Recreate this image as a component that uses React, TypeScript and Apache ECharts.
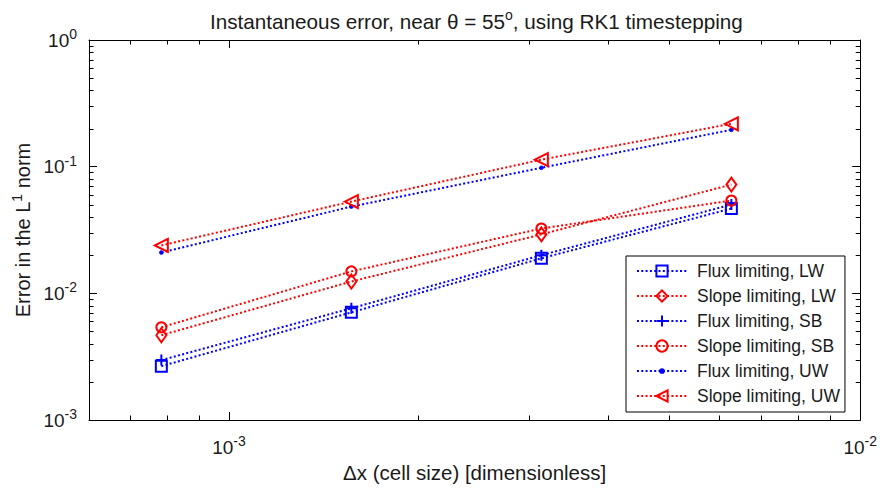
import React, { useEffect, useRef } from "react";
import * as echarts from "echarts";

// Cell sizes (dx) and L1 errors for each scheme
const cellSizes = [0.00078125, 0.0015625, 0.003125, 0.00625];
const fluxLW = [0.00266, 0.00708, 0.0189, 0.0467];
const slopeLW = [0.00467, 0.0124, 0.0292, 0.0722];
const fluxSB = [0.00297, 0.00762, 0.02, 0.0502];
const slopeSB = [0.0054, 0.0149, 0.0325, 0.054];
const fluxUW = [0.021, 0.0484, 0.098, 0.1955];
const slopeUW = [0.0239, 0.053, 0.1136, 0.218];

const seriesNames = [
  "Flux limiting, LW",
  "Slope limiting, LW",
  "Flux limiting, SB",
  "Slope limiting, SB",
  "Flux limiting, UW",
  "Slope limiting, UW",
];

const xRange = [6e-4, 1e-2];
const yRange = [1e-3, 1];
const xMinorTicks = [7e-4, 8e-4, 9e-4, 2e-3, 3e-3, 4e-3, 5e-3, 6e-3, 7e-3, 8e-3, 9e-3];
const yMinorTicks = [
  2e-3, 3e-3, 4e-3, 5e-3, 6e-3, 7e-3, 8e-3, 9e-3,
  2e-2, 3e-2, 4e-2, 5e-2, 6e-2, 7e-2, 8e-2, 9e-2,
  0.2, 0.3, 0.4, 0.5, 0.6, 0.7, 0.8, 0.9,
];

const FONT = "'Liberation Sans', Arial, Helvetica, sans-serif";
const BLUE = "#0000ff";
const RED = "#ff0000";
const INK = "#1a1a1a";
const MINOR_LEN = 4.5;

// small centred dot inside a wider box, so the marker stays small in the legend too
const dotSymbol = "path://M0,0M6,6M2,3a1,1 0 1,0 2,0a1,1 0 1,0 -2,0Z";
const plusSymbol = "path://M5,0L5,10M0,5L10,5";

function powerLabel(v: number): string {
  const e = Math.round(Math.log10(v));
  if (Math.abs(Math.log10(v) - e) > 1e-6) return "";
  return `{b|10}{s|${e}}`;
}

const supStyle = () => ({ fontSize: 14, fontFamily: FONT, color: INK, padding: [0, 0, 12, 0] });
const tickRich = () => ({
  b: { fontSize: 19, fontFamily: FONT, color: INK },
  s: supStyle(),
});

const frameLine = () => ({ show: true, onZero: false, lineStyle: { color: "#000", width: 1 } });
const majorTick = () => ({ show: true, inside: true, length: 8, lineStyle: { color: "#000", width: 1 } });

function makeLine(name: string, values: number[], color: string, symbol: string, size: any, extra: any = {}) {
  return {
    name,
    type: "line",
    data: cellSizes.map((x, i) => [x, values[i]]),
    symbol,
    symbolSize: size,
    showAllSymbol: true,
    lineStyle: { color, width: 2, type: [2, 2.3] },
    itemStyle: { color: "rgba(255,255,255,0)", borderColor: color, borderWidth: 2 },
    z: 3,
    ...extra,
  };
}

const tickLine = (x1: number, y1: number, x2: number, y2: number) => ({
  type: "line",
  shape: { x1, y1, x2, y2 },
  style: { stroke: "#000", lineWidth: 1 },
});

// Minor log ticks (2..9 of each decade) on all four sides, placed through the axes' scales
function minorTickLines(toX: (v: number) => number, toY: (v: number) => number) {
  const left = toX(xRange[0]);
  const right = toX(xRange[1]);
  const top = toY(yRange[1]);
  const bottom = toY(yRange[0]);
  const els: any[] = [];
  xMinorTicks.forEach((v) => {
    const x = Math.round(toX(v)) - 0.5;
    els.push(tickLine(x, bottom, x, bottom - MINOR_LEN));
    els.push(tickLine(x, top, x, top + MINOR_LEN));
  });
  yMinorTicks.forEach((v) => {
    const y = Math.round(toY(v)) + 0.5;
    els.push(tickLine(left, y, left + MINOR_LEN, y));
    els.push(tickLine(right, y, right - MINOR_LEN, y));
  });
  return els;
}

export default function App() {
  const ref = useRef<HTMLDivElement>(null);

  useEffect(() => {
    if (!ref.current) return;
    const chart = echarts.init(ref.current, undefined, { renderer: "svg" });

    chart.setOption({
      animation: false,
      title: {
        text: "Instantaneous error, near θ = 55{s|o}, using RK1 timestepping",
        left: 205,
        top: 3,
        textStyle: {
          fontSize: 20.7,
          fontWeight: "normal",
          fontFamily: FONT,
          color: INK,
          rich: { s: supStyle() },
        },
      },
      grid: { left: 89, right: 18, top: 40, bottom: 67 },
      xAxis: [
        {
          type: "log",
          logBase: 10,
          min: xRange[0],
          max: xRange[1],
          position: "bottom",
          name: "Δx (cell size) [dimensionless]",
          nameLocation: "middle",
          nameGap: 42,
          nameTextStyle: { fontSize: 20.5, fontFamily: FONT, color: INK },
          axisLine: frameLine(),
          axisTick: majorTick(),
          splitLine: { show: false },
          axisLabel: {
            formatter: (v: number) => powerLabel(v),
            margin: 14,
            rich: tickRich(),
          },
        },
        {
          type: "log",
          logBase: 10,
          min: xRange[0],
          max: xRange[1],
          position: "top",
          axisLine: frameLine(),
          axisTick: majorTick(),
          axisLabel: { show: false },
          splitLine: { show: false },
        },
      ],
      yAxis: [
        {
          type: "log",
          logBase: 10,
          min: yRange[0],
          max: yRange[1],
          position: "left",
          name: "Error in the L{s|1} norm",
          nameLocation: "middle",
          nameGap: 53,
          nameTextStyle: {
            fontSize: 20,
            fontFamily: FONT,
            color: INK,
            rich: { s: supStyle() },
          },
          axisLine: frameLine(),
          axisTick: majorTick(),
          splitLine: { show: false },
          axisLabel: {
            formatter: (v: number) => powerLabel(v),
            margin: 12,
            rich: tickRich(),
          },
        },
        {
          type: "log",
          logBase: 10,
          min: yRange[0],
          max: yRange[1],
          position: "right",
          axisLine: frameLine(),
          axisTick: majorTick(),
          axisLabel: { show: false },
          splitLine: { show: false },
        },
      ],
      legend: {
        data: seriesNames,
        orient: "vertical",
        left: 626,
        top: 256,
        itemWidth: 50,
        itemHeight: 14,
        itemGap: 7,
        padding: [6, 5, 7, 10],
        backgroundColor: "#fff",
        borderColor: "#000",
        borderWidth: 1,
        selectedMode: false,
        textStyle: {
          fontSize: 17.5,
          fontFamily: FONT,
          color: INK,
          padding: [0, 0, 0, 5],
        },
      },
      series: [
        makeLine(seriesNames[0], fluxLW, BLUE, "rect", 11),
        makeLine(seriesNames[1], slopeLW, RED, "diamond", [10, 14]),
        makeLine(seriesNames[2], fluxSB, BLUE, plusSymbol, 11),
        makeLine(seriesNames[3], slopeSB, RED, "circle", 10),
        makeLine(seriesNames[4], fluxUW, BLUE, dotSymbol, 11, {
          itemStyle: { color: BLUE, borderColor: BLUE, borderWidth: 1 },
        }),
        makeLine(seriesNames[5], slopeUW, RED, "triangle", 13, { symbolRotate: 90 }),
        {
          name: "minor ticks",
          type: "custom",
          data: [[2e-3, 0.03]],
          renderItem: (_params: any, api: any) => ({
            type: "group",
            children: minorTickLines(
              (v) => api.coord([v, 0.03])[0],
              (v) => api.coord([2e-3, v])[1]
            ),
          }),
        },
      ],
    });

    return () => chart.dispose();
  }, []);

  return (
    <div
      ref={ref}
      style={{ position: "fixed", left: 0, top: 0, width: 880, height: 488, background: "#fff" }}
    />
  );
}
